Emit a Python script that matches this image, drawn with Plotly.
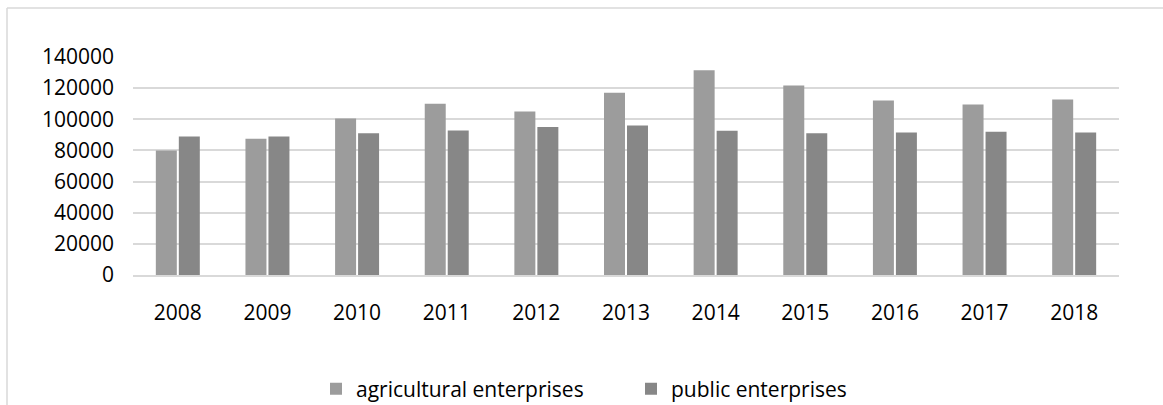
import plotly.graph_objects as go

# Annual figures by type of enterprise
years = ["2008", "2009", "2010", "2011", "2012", "2013", "2014", "2015", "2016", "2017", "2018"]
agricultural = [80000, 87500, 100500, 110000, 105000, 117000, 131500, 121700, 112000, 109500, 112700]
public = [89000, 89000, 91000, 92800, 95000, 96000, 92700, 91000, 91500, 92000, 91500]
y_ticks = [0, 20000, 40000, 60000, 80000, 100000, 120000, 140000]
y_tick_labels = [str(v) for v in y_ticks]

W, H = 1163, 405
M_L, M_R, M_T, M_B = 133, 44, 57, 130
plot_w = W - M_L - M_R
plot_h = H - M_T - M_B

font = dict(family="Open Sans", size=21, color="#000000")
grid = "#d9d9d9"

fig = go.Figure()
fig.add_trace(go.Bar(name="agricultural enterprises", x=years, y=agricultural,
                     marker=dict(color="#9c9c9c", line=dict(width=0))))
fig.add_trace(go.Bar(name="public enterprises", x=years, y=public,
                     marker=dict(color="#878787", line=dict(width=0))))


def px_x(px):
    return (px - M_L) / plot_w


def px_y(py):
    return (H - M_B - py) / plot_h


# chart frame: left and top edges
frame = dict(color=grid, width=1.5)
fig.add_shape(type="line", xref="paper", yref="paper",
              x0=px_x(7), x1=px_x(7), y0=px_y(8), y1=px_y(410), line=frame)
fig.add_shape(type="line", xref="paper", yref="paper",
              x0=px_x(7), x1=px_x(1170), y0=px_y(8), y1=px_y(8), line=frame)

fig.update_layout(
    width=W, height=H,
    margin=dict(l=M_L, r=M_R, t=M_T, b=M_B, autoexpand=False),
    paper_bgcolor="white", plot_bgcolor="white",
    barmode="group", bargap=0.487, bargroupgap=0.087,
    font=font,
    showlegend=True,
    legend=dict(orientation="h", xanchor="left", yanchor="middle",
                x=px_x(316), y=px_y(389), font=font,
                entrywidth=270, entrywidthmode="pixels",
                bgcolor="rgba(0,0,0,0)", borderwidth=0),
    xaxis=dict(type="category", showgrid=False, showline=True, linecolor=grid,
               linewidth=1.5, ticks="", ticklabelstandoff=18, tickfont=font),
    yaxis=dict(range=[0, 140000], tickvals=y_ticks, ticktext=y_tick_labels,
               showgrid=True, gridcolor=grid, gridwidth=1.5, zeroline=False,
               showline=False, ticks="", ticklabelstandoff=18, tickfont=font),
)

fig.write_html("out.html")
